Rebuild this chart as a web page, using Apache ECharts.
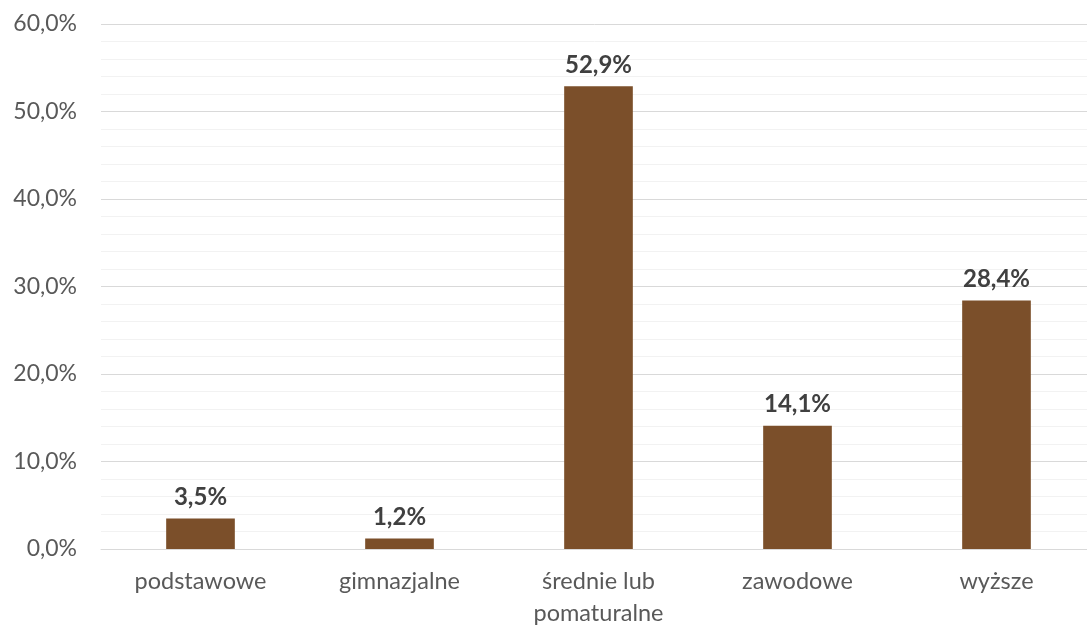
<!DOCTYPE html>
<html><head><meta charset="utf-8">
<script src="https://cdn.jsdelivr.net/npm/echarts@6/dist/echarts.min.js"></script>
<style>html,body{margin:0;padding:0;background:#fff}#c{width:1087px;height:628px}</style>
</head><body><div id="c"></div>
<script>
const categories = ['podstawowe', 'gimnazjalne', 'średnie lub\npomaturalne', 'zawodowe', 'wyższe'];
const values = [3.5, 1.2, 52.9, 14.1, 28.4];
const yTicks = [0, 10, 20, 30, 40, 50, 60];

const fmt = v => v.toFixed(1).replace('.', ',') + '%';
const FONT = 'Lato';
const chart = echarts.init(document.getElementById('c'));
chart.setOption({
  animation: false,
  grid: {left: 101, width: 995, top: 24, bottom: 79, outerBoundsMode: 'none', containLabel: false},
  xAxis: {
    type: 'category', data: categories,
    axisLine: {show: true, lineStyle: {color: '#D9D9D9', width: 1}},
    axisTick: {show: false},
    axisLabel: {color: '#595959', fontSize: 23.5, fontFamily: FONT, margin: 16, lineHeight: 32, interval: 0}
  },
  yAxis: {
    type: 'value', min: yTicks[0], max: yTicks[yTicks.length - 1], interval: 10,
    axisLine: {show: false}, axisTick: {show: false},
    axisLabel: {color: '#595959', fontSize: 23, fontFamily: FONT, margin: 24, formatter: v => fmt(v)},
    splitLine: {lineStyle: {color: '#D9D9D9', width: 1}},
    minorTick: {show: false, splitNumber: 5},
    minorSplitLine: {show: true, lineStyle: {color: '#F2F2F2', width: 1}}
  },
  series: [{
    type: 'bar', data: values, barWidth: '34.5%',
    itemStyle: {color: '#7B4F2A'},
    label: {show: true, position: 'top', distance: 9, color: '#404040', fontSize: 24, fontWeight: 'bold', fontFamily: FONT, formatter: p => fmt(p.value)}
  }]
});
</script></body></html>
